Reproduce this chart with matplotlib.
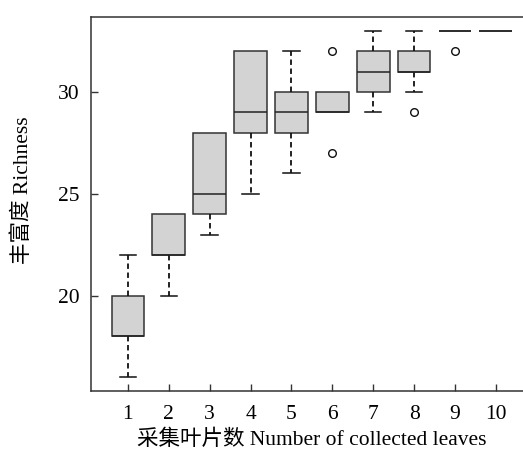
import matplotlib
matplotlib.use("Agg")
import matplotlib.pyplot as plt

plt.rcParams['font.family'] = ['Liberation Serif', 'Noto Sans CJK SC']

# Box statistics per number of collected leaves
leaves = [1, 2, 3, 4, 5, 6, 7, 8, 9, 10]
whisker_low = [16, 20, 23, 25, 26, 29, 29, 30, 33, 33]
q1 = [18, 22, 24, 28, 28, 29, 30, 31, 33, 33]
median = [18, 22, 25, 29, 29, 29, 31, 31, 33, 33]
q3 = [20, 24, 28, 32, 30, 30, 32, 32, 33, 33]
whisker_high = [22, 24, 28, 32, 32, 30, 33, 33, 33, 33]
outliers = [[], [], [], [], [], [27, 32], [], [29], [32], []]
tick_labels = [str(n) for n in leaves]

stats = []
for i in range(len(leaves)):
    stats.append(dict(med=median[i], q1=q1[i], q3=q3[i],
                      whislo=whisker_low[i], whishi=whisker_high[i],
                      fliers=outliers[i], label=tick_labels[i]))

edge = '#333333'
fig = plt.figure(figsize=(5.23, 4.51), dpi=100)
ax = fig.add_axes([0.1734, 0.133, 0.845, 0.8293])

parts = ax.bxp(stats, positions=leaves, widths=0.8, patch_artist=True,
               boxprops=dict(facecolor='#d3d3d3', edgecolor=edge, linewidth=1.1),
               medianprops=dict(color='#222222', linewidth=1.1),
               whiskerprops=dict(color='#111111', linewidth=1.3, linestyle=(0, (3, 2))),
               capprops=dict(color='#111111', linewidth=1.1),
               capwidths=0.4,
               flierprops=dict(marker='o', markerfacecolor='none', markeredgecolor='#111111',
                               markersize=5.5, markeredgewidth=1.0))

# Staples are only shown where a whisker actually extends beyond the box
for i in range(len(leaves)):
    if whisker_low[i] == q1[i]:
        parts['caps'][2 * i].set_visible(False)
    if whisker_high[i] == q3[i]:
        parts['caps'][2 * i + 1].set_visible(False)

ax.set_xlim(0.09, 10.9)
ax.set_ylim(15.32, 33.68)
ax.set_yticks([20, 25, 30])
ax.set_xticks(leaves)
ax.set_xticklabels(tick_labels)
ax.tick_params(direction='in', length=5, width=1, color=edge, labelsize=15.5)
ax.tick_params(axis='x', pad=10)
ax.tick_params(axis='y', pad=8)
for s in ax.spines.values():
    s.set_color(edge)
    s.set_linewidth(1.1)

ax.set_xlabel('采集叶片数 Number of collected leaves', fontsize=15.5, labelpad=4)
ax.set_ylabel('丰富度 Richness', fontsize=15.5)
ax.yaxis.set_label_coords(-0.13, 0.537)

fig.savefig('out.png', dpi=100)
